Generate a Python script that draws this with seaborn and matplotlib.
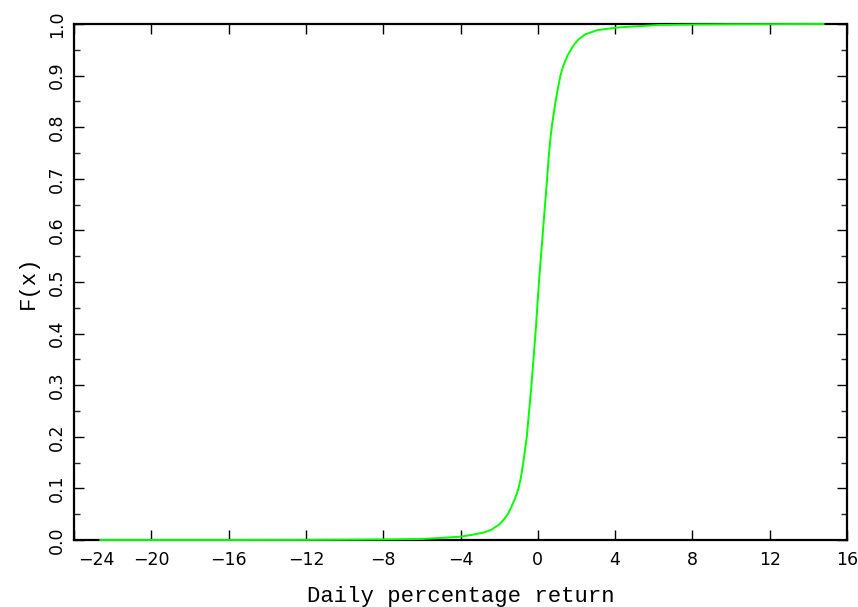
import numpy as np
import pandas as pd
import seaborn as sns
import matplotlib.pyplot as plt
import matplotlib.transforms as mtransforms
from matplotlib.ticker import MultipleLocator

returns = [-22.65, -16.0, -12.0, -8.2, -6.0, -5.0, -4.0, -3.4, -2.75, -2.4,
           -2.0, -1.75, -1.55, -1.42, -1.3, -1.18, -1.0, -0.88, -0.75, -0.57,
           -0.33, -0.12, 0.06, 0.27, 0.48, 0.56, 0.62, 0.68, 0.75, 0.83,
           0.92, 1.04, 1.17, 1.33, 1.55, 1.88, 2.1, 2.45, 3.07, 4.05,
           5.3, 6.2, 8.0, 10.0, 14.8]
cdf = [0.0, 0.0, 0.0002, 0.001, 0.002, 0.004, 0.0065, 0.010, 0.015, 0.020,
       0.030, 0.040, 0.050, 0.060, 0.070, 0.080, 0.100, 0.120, 0.150, 0.200,
       0.300, 0.400, 0.500, 0.600, 0.700, 0.740, 0.765, 0.787, 0.808, 0.828,
       0.850, 0.875, 0.900, 0.920, 0.940, 0.960, 0.970, 0.980, 0.988, 0.993,
       0.996, 0.998, 0.999, 0.9995, 1.0]

x_ticks = [-24, -20, -16, -12, -8, -4, 0, 4, 8, 12, 16]
y_ticks = [0.0, 0.1, 0.2, 0.3, 0.4, 0.5, 0.6, 0.7, 0.8, 0.9, 1.0]

df = pd.DataFrame({"ret": returns, "F": cdf})

sns.set_theme(style="white")
plt.rcParams["font.family"] = ["DejaVu Sans"]
plt.rcParams["text.color"] = "black"

fig = plt.figure(figsize=(8.58, 6.07), dpi=100)
ax = fig.add_axes([74 / 858, 67 / 607, 773 / 858, 516 / 607])

sns.lineplot(data=df, x="ret", y="F", ax=ax, color="#00ff00", lw=1.4,
             estimator=None, sort=False, clip_on=False, zorder=5)

ax.set_xlim(-24, 16)
ax.set_ylim(0, 1)

TICK_FS = 12.5
ax.set_xticks(x_ticks)
xlabels = ["" if t == -24 else f"{t}".replace("-", "\u2212") for t in x_ticks]
ax.set_xticklabels(xlabels)
off = mtransforms.ScaledTranslation(22 / 100, -8 / 72, fig.dpi_scale_trans)
ax.text(-24, 0, "\u221224", transform=ax.get_xaxis_transform() + off,
        ha="center", va="top", fontsize=TICK_FS, color="black",
        family="DejaVu Sans")

ax.set_yticks(y_ticks)
ax.set_yticklabels([f"{t:.1f}" for t in y_ticks], rotation=90, va="center")
ax.yaxis.set_minor_locator(MultipleLocator(0.05))

ax.tick_params(axis="both", which="major", direction="in", length=7, width=1,
               colors="black", labelsize=TICK_FS)
ax.tick_params(axis="x", which="major", top=True, bottom=True, pad=8)
ax.tick_params(axis="y", which="major", left=True, right=True, pad=6)
ax.tick_params(axis="y", which="minor", direction="in", length=4, width=1,
               left=True, right=True)

for s in ax.spines.values():
    s.set_visible(True)
    s.set_color("black")
    s.set_linewidth(1.6)

ax.set_xlabel("Daily percentage return", family="Liberation Mono", fontsize=16,
              labelpad=12, color="black")
ax.set_ylabel("F(x)", family="Liberation Mono", fontsize=16, labelpad=6,
              color="black")
ax.grid(False)

fig.savefig("out.png", dpi=100, facecolor="white")
